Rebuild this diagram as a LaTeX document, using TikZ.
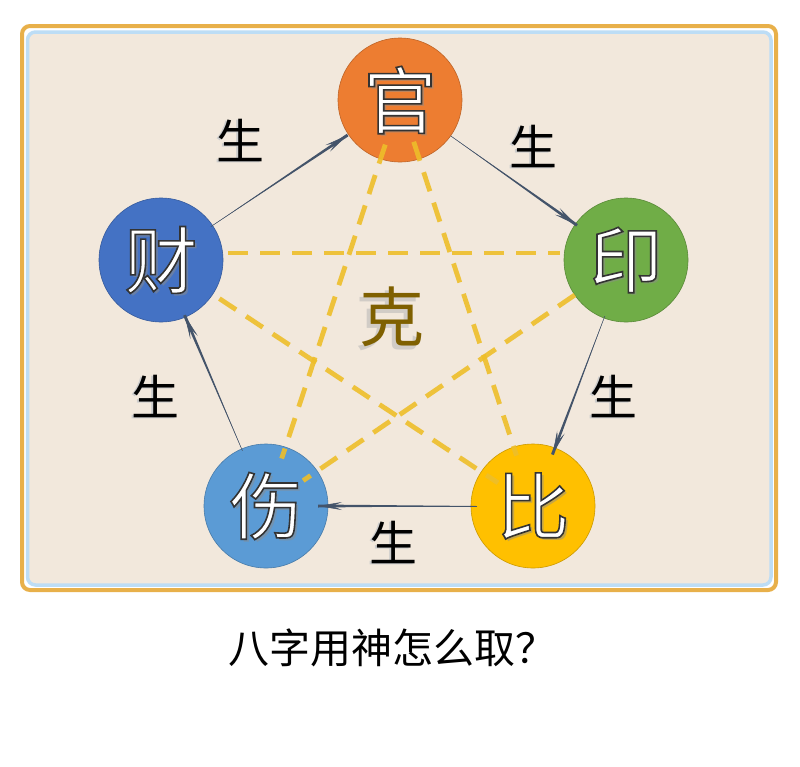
\documentclass[tikz,border=0pt]{standalone}
\usepackage{fontspec}
\newfontfamily\cjk{Noto Sans CJK SC}
\usetikzlibrary{calc,arrows.meta}
\definecolor{bgbeige}{RGB}{242,232,220}
\definecolor{borderor}{RGB}{232,176,74}
\definecolor{borderbl}{RGB}{189,221,245}
\definecolor{cguan}{RGB}{237,125,49}
\definecolor{ccai}{RGB}{68,114,196}
\definecolor{cyin}{RGB}{112,173,71}
\definecolor{cshang}{RGB}{91,155,213}
\definecolor{cbi}{RGB}{255,192,0}
\definecolor{arrowc}{RGB}{68,84,106}
\definecolor{kecol}{RGB}{238,190,42}
\definecolor{kebrown}{RGB}{127,96,0}
\tikzset{
  elem/.style={circle, minimum size=124pt, inner sep=0pt, line width=0.6pt},
  kedash/.style={draw=kecol, line width=4.8pt, dash pattern=on 20pt off 12pt, opacity=0.9},
  shengarrow/.style={draw=arrowc, line width=0.5pt, -{Stealth[length=24pt,width=8pt,inset=10pt]}},
  shenglbl/.style={font=\cjk\fontsize{48}{48}\selectfont, text=black},
  elemtxt/.style={font=\cjk\fontsize{73}{73}\selectfont, inner sep=0pt},
}
\newcommand{\outl}[1]{\special{pdf:literal direct 2 Tr 1.6 w 0.2 0.2 0.2 RG}#1\special{pdf:literal direct 0 Tr}}
\newcommand{\elemlabel}[2]{%
  \node[elemtxt, text=black!45, opacity=0.5] at ([xshift=2.5pt,yshift=-2.5pt]#1.center) {#2};
  \node[elemtxt, text=white] at (#1.center) {\outl{#2}};
}
\newcommand{\taper}[4]{%
  \coordinate (ts) at ($(#1)!#3pt!(#2)$);
  \coordinate (te) at ($(#2)!#4pt!(#1)$);
  \fill[arrowc] (ts) -- ($(te)!1.5pt!90:(ts)$) -- ($(te)!1.5pt!-90:(ts)$) -- cycle;
  \draw[shengarrow] (ts) -- (te);
}
\begin{document}
\begin{tikzpicture}[x=1pt,y=-1pt]
\useasboundingbox (0,0) rectangle (800,766);
\fill[white] (0,0) rectangle (800,766);
% frame
\draw[borderor, line width=4pt, rounded corners=8pt, fill=white] (22,26) rectangle (776,590);
\draw[borderbl, line width=3.5pt, rounded corners=8pt, fill=bgbeige] (27.5,32) rectangle (771,585);
% circles
\node[elem, fill=cguan, draw=cguan!80!black] (guan) at (400,100) {};
\node[elem, fill=ccai, draw=ccai!80!black] (cai) at (161,260) {};
\node[elem, fill=cyin, draw=cyin!80!black] (yin) at (626,260) {};
\node[elem, fill=cshang, draw=cshang!80!black] (shang) at (266,506) {};
\node[elem, fill=cbi, draw=cbi!80!black] (bi) at (533,506) {};
\coordinate (caiup) at ([yshift=7pt]cai.center);
\coordinate (yinup) at ([yshift=7pt]yin.center);
% ke dashed lines
\draw[kedash] ($(guan.center)!47pt!(shang.center)$) -- ($(shang.center)!50pt!(guan.center)$);
\draw[kedash] ($(guan.center)!44pt!(bi.center)$) -- ($(bi.center)!53pt!(guan.center)$);
\draw[kedash] ($(caiup)!67pt!(yinup)$) -- ($(yinup)!66pt!(caiup)$);
\draw[kedash] ($(cai.center)!70pt!(bi.center)$) -- ($(bi.center)!42pt!(cai.center)$);
\draw[kedash] ($(yin.center)!62pt!(shang.center)$) -- ($(shang.center)!45pt!(yin.center)$);
% sheng arrows
\taper{cai.center}{guan.center}{60}{63}
\taper{guan.center}{yin.center}{62}{60}
\taper{yin.center}{bi.center}{60}{55}
\taper{bi.center}{shang.center}{56}{52}
\taper{shang.center}{cai.center}{60}{60}
% element labels
\elemlabel{guan}{官}
\elemlabel{cai}{财}
\elemlabel{yin}{印}
\elemlabel{shang}{伤}
\elemlabel{bi}{比}
% sheng labels
\foreach \x/\y/\n in {240/140/s1,533/146/s2,613/396/s3,393/542/s4,155/396/s5}{
  \node[shenglbl, text=black!20] at (\x-1.5,\y+1.5) {生};
  \node[shenglbl] (\n) at (\x,\y) {生};
}
% ke label
\node[font=\cjk\fontsize{65}{65}\selectfont, text=black!30, opacity=0.5] at (388,321) {克};
\node[font=\cjk\fontsize{65}{65}\selectfont, text=kebrown] (ke) at (392,317) {克};
% caption
\node[font=\cjk\fontsize{41}{41}\selectfont] (cap) at (392,648) {八字用神怎么取？};
\end{tikzpicture}
\end{document}
